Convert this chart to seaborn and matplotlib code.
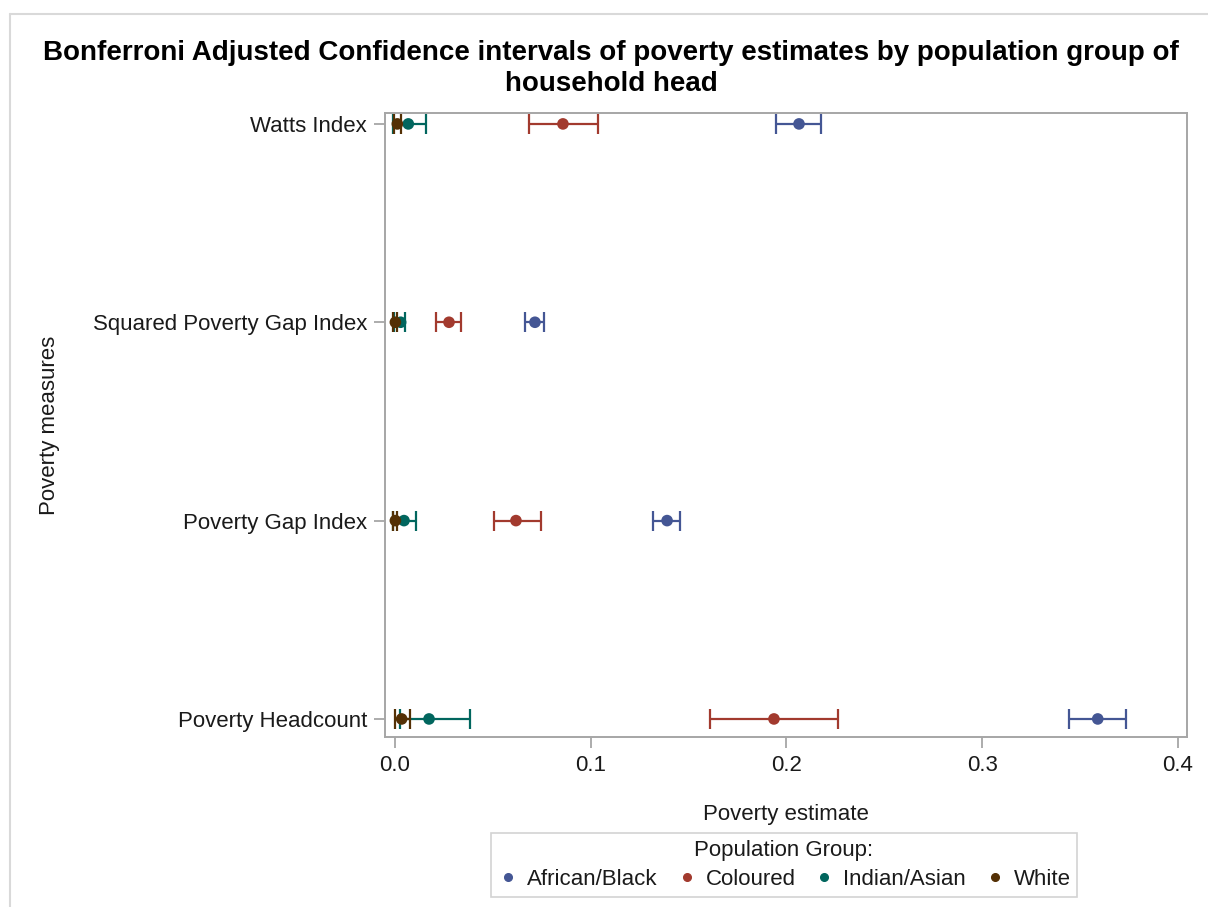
import matplotlib
matplotlib.use("Agg")
import matplotlib.pyplot as plt
from matplotlib.lines import Line2D
import numpy as np
import pandas as pd
import seaborn as sns

# Poverty measures, listed from the bottom of the y axis to the top
measures = ["Poverty Headcount", "Poverty Gap Index", "Squared Poverty Gap Index", "Watts Index"]
groups = ["African/Black", "Coloured", "Indian/Asian", "White"]

# Point estimates and Bonferroni-adjusted bounds per population group
black_est = [0.359, 0.139, 0.0715, 0.2064]
black_lo = [0.3443, 0.1318, 0.0664, 0.1946]
black_hi = [0.3734, 0.1456, 0.0761, 0.2176]

coloured_est = [0.1936, 0.0618, 0.0276, 0.0858]
coloured_lo = [0.1610, 0.0506, 0.0210, 0.0685]
coloured_hi = [0.2263, 0.0746, 0.0337, 0.1037]

indian_est = [0.0174, 0.0046, 0.0029, 0.0068]
indian_lo = [0.0025, -0.0010, -0.0005, -0.0010]
indian_hi = [0.0383, 0.0108, 0.0051, 0.0157]

white_est = [0.0034, 0.0002, 0.0002, 0.0012]
white_lo = [0.0000, -0.0008, -0.0008, -0.0005]
white_hi = [0.0077, 0.0008, 0.0012, 0.0030]

palette = ["#445694", "#A23A2E", "#01665E", "#543005"]
x_ticks = [0.0, 0.1, 0.2, 0.3, 0.4]

title_lines = ["Bonferroni Adjusted Confidence intervals of poverty estimates by population group of",
               "household head"]

frames = []
for g, est, lo, hi in zip(groups,
                          [black_est, coloured_est, indian_est, white_est],
                          [black_lo, coloured_lo, indian_lo, white_lo],
                          [black_hi, coloured_hi, indian_hi, white_hi]):
    frames.append(pd.DataFrame({"measure": measures, "group": g,
                                "estimate": est, "lower": lo, "upper": hi}))
df = pd.concat(frames, ignore_index=True)
df["pos"] = df["measure"].map({m: i for i, m in enumerate(measures)})

sns.set_style("white")
plt.rcParams["font.family"] = ["Liberation Sans", "DejaVu Sans"]

fig = plt.figure(figsize=(12.08, 9.07), dpi=100)
ax = fig.add_axes([385 / 1208, 1 - 737 / 907, (1187 - 385) / 1208, (737 - 113) / 907])

for i, (g, color) in enumerate(zip(groups, palette)):
    sub = df[df["group"] == g]
    ax.errorbar(sub["estimate"], sub["pos"],
                xerr=[sub["estimate"] - sub["lower"], sub["upper"] - sub["estimate"]],
                fmt="none", ecolor=color, elinewidth=1.6, capsize=7, capthick=1.6,
                zorder=2 + i)

sns.scatterplot(data=df, x="estimate", y="pos", hue="group", hue_order=groups,
                palette=palette, s=70, edgecolor="none", ax=ax, legend=False, zorder=10)

ax.set_xlim(-0.0051, 0.4046)
ax.set_ylim(-0.091, 3.055)
ax.set_xticks(x_ticks)
ax.set_xticklabels([f"{t:.1f}" for t in x_ticks])
ax.set_yticks(range(len(measures)))
ax.set_yticklabels(measures)

for sp in ax.spines.values():
    sp.set_color("#A6A6A6")
    sp.set_linewidth(1.4)
ax.tick_params(axis="both", which="both", direction="out", length=8, width=1.3,
               color="#A6A6A6", labelsize=16, labelcolor="#1A1A1A", pad=5,
               bottom=True, left=True)

ax.set_xlabel("Poverty estimate", fontsize=16, color="#1A1A1A")
ax.xaxis.set_label_coords(0.5, -0.108)
ax.set_ylabel("Poverty measures", fontsize=16, color="#1A1A1A")
ax.yaxis.set_label_coords(-0.405, 0.5)

for y_px, line in zip([53, 84], title_lines):
    fig.text(611 / 1208, 1 - y_px / 907, line, ha="center", va="center",
             fontsize=20, fontweight="bold", color="#000000")

handles = [Line2D([0], [0], marker="o", linestyle="none", markersize=5.5,
                  markerfacecolor=c, markeredgecolor=c) for c in palette]
leg = fig.legend(handles, groups, loc="upper center", bbox_to_anchor=(784 / 1208, 1 - 833 / 907),
                 borderaxespad=0, ncol=4, title="Population Group:", fontsize=16, title_fontsize=16,
                 frameon=True, fancybox=False, edgecolor="#C8C8C8", handletextpad=0.35,
                 columnspacing=0.8, borderpad=0.3, labelspacing=0.2, handlelength=1.0)
leg.get_frame().set_linewidth(1.2)
leg._legend_box.sep = 6
for t in leg.get_texts():
    t.set_color("#1A1A1A")
leg.get_title().set_color("#1A1A1A")

# Thin outer border of the graph area
fig.add_artist(Line2D([10 / 1208, 10 / 1208], [0, 1 - 14 / 907], transform=fig.transFigure,
                      color="#D9D9D9", linewidth=1.5))
fig.add_artist(Line2D([10 / 1208, 1], [1 - 14 / 907, 1 - 14 / 907], transform=fig.transFigure,
                      color="#D9D9D9", linewidth=1.5))

fig.savefig("out.png", dpi=100)
